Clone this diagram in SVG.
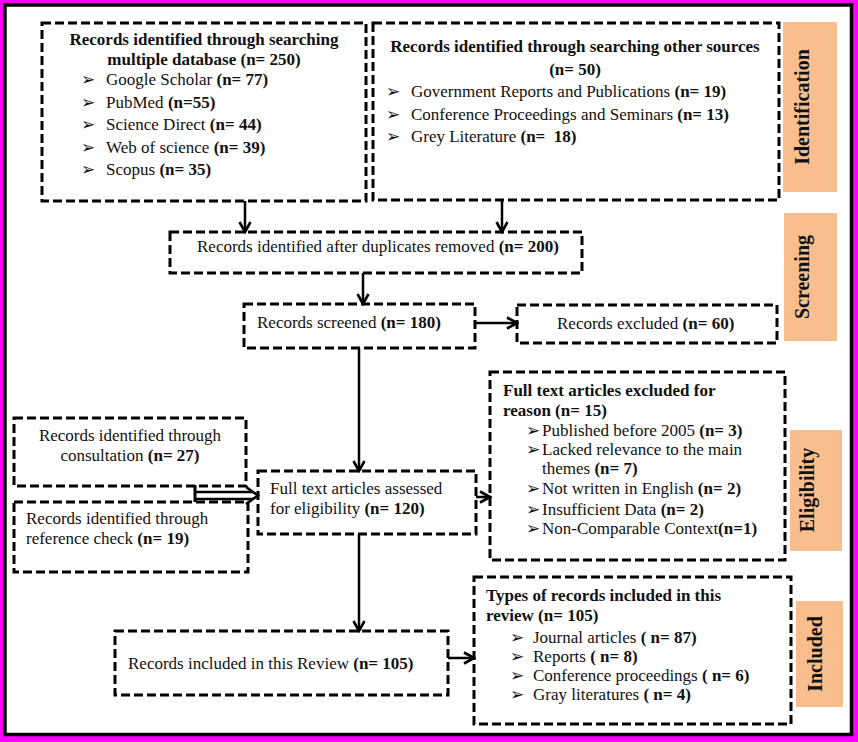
<svg xmlns="http://www.w3.org/2000/svg" width="858" height="742" viewBox="0 0 858 742">
<defs>
<style>
.box{fill:none;stroke:#000;stroke-width:3;stroke-dasharray:9 4}
.t{font-family:"Liberation Serif","Times New Roman",serif;font-size:17px;fill:#111}
.b{font-weight:bold}
.bul{font-family:"DejaVu Sans",sans-serif;font-size:17px;fill:#111}
.lab{fill:#F9BE8E}
.lt{font-family:"Liberation Serif","Times New Roman",serif;font-size:20px;font-weight:bold;fill:#111}
.ln{fill:none;stroke:#000;stroke-width:2.5}
</style>
<marker id="ah" markerUnits="userSpaceOnUse" markerWidth="14" markerHeight="14" viewBox="0 0 14 14" refX="12" refY="7" orient="auto">
<path d="M2,1.5 L12,7 L2,12.5" fill="none" stroke="#000" stroke-width="2.6"/>
</marker>
</defs>
<rect x="0" y="0" width="858" height="742" fill="#FF00FF"/>
<rect x="5" y="5" width="846.5" height="729.5" fill="#fff" stroke="#000" stroke-width="3.5"/>

<g id="connectors">
<line class="ln" x1="245" y1="201" x2="245" y2="232" marker-end="url(#ah)"/>
<line class="ln" x1="502" y1="201" x2="502" y2="232" marker-end="url(#ah)"/>
<line class="ln" x1="363" y1="273" x2="363" y2="304" marker-end="url(#ah)"/>
<line class="ln" x1="475" y1="323" x2="517" y2="323" marker-end="url(#ah)"/>
<line class="ln" x1="359" y1="348" x2="359" y2="471" marker-end="url(#ah)"/>
<line class="ln" x1="476" y1="497" x2="490" y2="497" marker-end="url(#ah)"/>
<line class="ln" x1="359" y1="534" x2="359" y2="631" marker-end="url(#ah)"/>
<line class="ln" x1="448" y1="658" x2="474" y2="658" marker-end="url(#ah)"/>
<line x1="195" y1="485" x2="195" y2="502" stroke="#000" stroke-width="3"/>
<line x1="195" y1="492" x2="253" y2="492" stroke="#000" stroke-width="2.4"/>
<line x1="195" y1="499" x2="253" y2="499" stroke="#000" stroke-width="2.4"/>
<path d="M246,487 L258,495.5 L246,504" fill="none" stroke="#000" stroke-width="2.6"/>
</g>

<g id="n1">
<rect class="box" x="42" y="23" width="324" height="178"/>
<text class="t b" x="204" y="45" text-anchor="middle">Records identified through searching</text>
<text class="t b" x="204" y="65" text-anchor="middle">multiple database (n= 250)</text>
<text class="bul" x="81" y="85">➢</text><text class="t" x="106" y="85">Google Scholar <tspan class="b">(n= 77)</tspan></text>
<text class="bul" x="81" y="107.5">➢</text><text class="t" x="106" y="107.5">PubMed <tspan class="b">(n=55)</tspan></text>
<text class="bul" x="81" y="130">➢</text><text class="t" x="106" y="130">Science Direct <tspan class="b">(n= 44)</tspan></text>
<text class="bul" x="81" y="152.5">➢</text><text class="t" x="106" y="152.5">Web of science <tspan class="b">(n= 39)</tspan></text>
<text class="bul" x="81" y="175">➢</text><text class="t" x="106" y="175">Scopus <tspan class="b">(n= 35)</tspan></text>
</g>

<g id="n2">
<rect class="box" x="373" y="23" width="406" height="177"/>
<text class="t b" x="575" y="52" text-anchor="middle">Records identified through searching other sources</text>
<text class="t b" x="575" y="75" text-anchor="middle">(n= 50)</text>
<text class="bul" x="386" y="97">➢</text><text class="t" x="411" y="97">Government Reports and Publications <tspan class="b">(n= 19)</tspan></text>
<text class="bul" x="386" y="120">➢</text><text class="t" x="411" y="120">Conference Proceedings and Seminars <tspan class="b">(n= 13)</tspan></text>
<text class="bul" x="386" y="142">➢</text><text class="t" x="411" y="142" xml:space="preserve">Grey Literature <tspan class="b">(n=  18)</tspan></text>
</g>

<g id="l-identification">
<rect class="lab" x="783" y="22" width="54" height="170"/>
<text class="lt" transform="translate(809,107) rotate(-90)" text-anchor="middle">Identification</text>
</g>

<g id="n3">
<rect class="box" x="170" y="232" width="412" height="41"/>
<text class="t" x="197" y="252">Records identified after duplicates removed <tspan class="b">(n= 200)</tspan></text>
</g>

<g id="l-screening">
<rect class="lab" x="784" y="213" width="53" height="128"/>
<text class="lt" transform="translate(809,277) rotate(-90)" text-anchor="middle">Screening</text>
</g>

<g id="n4">
<rect class="box" x="244" y="304" width="231" height="44"/>
<text class="t" x="257" y="328">Records screened <tspan class="b">(n= 180)</tspan></text>
</g>

<g id="n5">
<rect class="box" x="517" y="305" width="260" height="38"/>
<text class="t" x="557" y="329">Records excluded <tspan class="b">(n= 60)</tspan></text>
</g>

<g id="n7">
<rect class="box" x="490" y="372" width="295" height="188"/>
<text class="t b" x="503" y="396">Full text articles excluded for</text>
<text class="t b" x="503" y="416">reason (n= 15)</text>
<text class="bul" x="526" y="436">➢</text><text class="t" x="542" y="436">Published before 2005 <tspan class="b">(n= 3)</tspan></text>
<text class="bul" x="526" y="455">➢</text><text class="t" x="542" y="455">Lacked relevance to the main</text>
<text class="t" x="542" y="474">themes <tspan class="b">(n= 7)</tspan></text>
<text class="bul" x="526" y="494">➢</text><text class="t" x="542" y="494">Not written in English <tspan class="b">(n= 2)</tspan></text>
<text class="bul" x="526" y="515">➢</text><text class="t" x="542" y="515">Insufficient Data <tspan class="b">(n= 2)</tspan></text>
<text class="bul" x="526" y="534">➢</text><text class="t" x="542" y="534">Non-Comparable Context<tspan class="b">(n=1)</tspan></text>
</g>

<g id="l-eligibility">
<rect class="lab" x="790" y="430" width="52" height="121"/>
<text class="lt" transform="translate(814,490) rotate(-90)" text-anchor="middle">Eligibility</text>
</g>

<g id="n-consult">
<rect class="box" x="14" y="418" width="232" height="68"/>
<text class="t" x="130" y="441" text-anchor="middle">Records identified through</text>
<text class="t" x="130" y="461" text-anchor="middle">consultation <tspan class="b">(n= 27)</tspan></text>
</g>

<g id="n-ref">
<rect class="box" x="14" y="502" width="234" height="70"/>
<text class="t" x="26" y="524">Records identified through</text>
<text class="t" x="26" y="544">reference check <tspan class="b">(n= 19)</tspan></text>
</g>

<g id="n6">
<rect class="box" x="258" y="471" width="218" height="63"/>
<text class="t" x="270" y="494">Full text articles assessed</text>
<text class="t" x="270" y="514">for eligibility <tspan class="b">(n= 120)</tspan></text>
</g>

<g id="n8">
<rect class="box" x="115" y="631" width="333" height="64"/>
<text class="t" x="128" y="669">Records included in this Review <tspan class="b">(n= 105)</tspan></text>
</g>

<g id="n9">
<rect class="box" x="474" y="577" width="317" height="147"/>
<text class="t b" x="486" y="601">Types of records included in this</text>
<text class="t b" x="486" y="621">review (n= 105)</text>
<text class="bul" x="510" y="643">➢</text><text class="t" x="533" y="643">Journal articles <tspan class="b">( n= 87)</tspan></text>
<text class="bul" x="510" y="662">➢</text><text class="t" x="533" y="662">Reports <tspan class="b">( n= 8)</tspan></text>
<text class="bul" x="510" y="681">➢</text><text class="t" x="533" y="681">Conference proceedings <tspan class="b">( n= 6)</tspan></text>
<text class="bul" x="510" y="700">➢</text><text class="t" x="533" y="700">Gray literatures <tspan class="b">( n= 4)</tspan></text>
</g>

<g id="l-included">
<rect class="lab" x="796" y="601" width="47" height="106"/>
<text class="lt" transform="translate(822,654) rotate(-90)" text-anchor="middle">Included</text>
</g>
</svg>
